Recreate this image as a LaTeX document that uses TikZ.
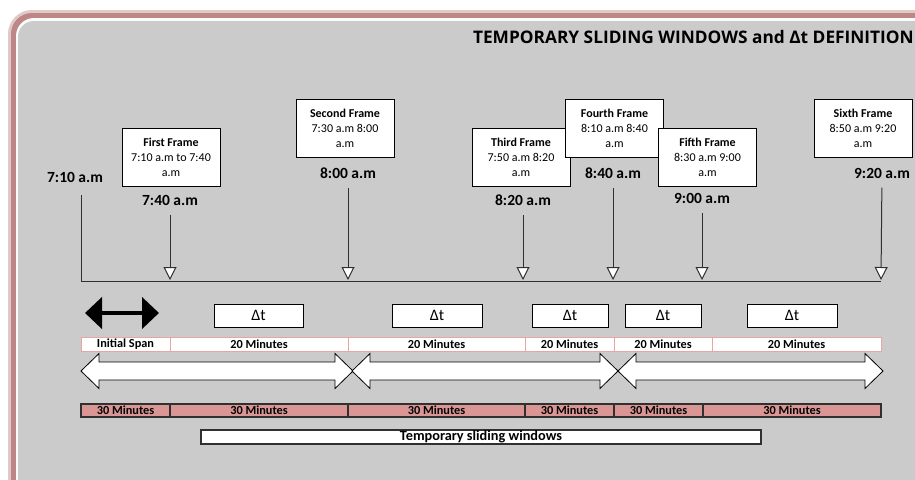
\documentclass[tikz,border=0pt]{standalone}
\usepackage{fontspec}
\setmainfont{Carlito}
\newfontfamily\titlefont{Open Sans}
\usetikzlibrary{arrows.meta, positioning}
\definecolor{panelgray}{HTML}{CBCBCB}
\definecolor{panelrim}{HTML}{BC8786}
\definecolor{spanpink}{HTML}{E6A6A5}
\definecolor{slotrose}{HTML}{D99694}
\definecolor{inkgray}{HTML}{303030}
\tikzset{
    winbox/.style = {draw, line width=1pt, fill=white, minimum width=98, minimum height=58,
        align=center, inner sep=1pt, font=\fontsize{12}{15}\selectfont},
    timelbl/.style = {inner sep=1pt, outer ysep=8.5pt, font=\bfseries\fontsize{15.5}{17}\selectfont},
    downarr/.style = {draw=inkgray, line width=1pt,
        -{Triangle[open, fill=white, length=13pt, width=13pt]}},
    dtbox/.style = {draw, line width=1pt, fill=white, minimum height=23, inner sep=0pt,
        font=\fontsize{16}{16}\selectfont},
    spanseg/.style = {draw=spanpink, line width=1pt, fill=white, minimum height=14,
        inner sep=0pt, outer sep=0pt, font=\bfseries\fontsize{12.3}{13}\selectfont},
    slotseg/.style = {draw=inkgray, line width=1.2pt, fill=slotrose, minimum height=13,
        inner sep=0pt, outer sep=0pt, font=\bfseries\fontsize{12.3}{13}\selectfont},
    pics/warrow/.style = {
        code = {%
        \draw[line width=.8pt, fill=white, line join=miter]
            (0,0) -- (18,-17.5) -- (18,-9) -- (#1-18,-9) -- (#1-18,-17.5) -- (#1,0)
            -- (#1-18,17.5) -- (#1-18,9) -- (18,9) -- (18,17.5) -- cycle;
        }
    },
}
\begin{document}
\begin{tikzpicture}[x=1pt, y=-1pt]
\useasboundingbox (0,0) rectangle (915,479);
\clip (0,0) rectangle (915,479);
\fill[white] (0,0) rectangle (915,479);
\fill[panelrim!45, rounded corners=24] (8,10) rectangle (960,520);
\fill[panelrim, rounded corners=21] (11,13) rectangle (960,520);
\fill[white!92!panelgray, rounded corners=18] (16,18) rectangle (960,520);
\fill[panelgray, rounded corners=16] (18,21) rectangle (960,520);

\node[anchor=east, inner sep=0pt, font=\titlefont\bfseries\fontsize{17.3}{18}\selectfont] (title) at (914,37)
    {TEMPORARY SLIDING WINDOWS and Δt DEFINITION};

% timeline
\coordinate (top0) at (81,195);
\coordinate (base0) at (81,281);
\coordinate (base6) at (881,281);
\draw[draw=inkgray, line width=1pt] (top0) -- (base0) -- (base6);
\node[timelbl] (l0) at (75,177) {7:10 a.m};

\coordinate (t1) at (170,280);
\coordinate (t2) at (348,280);
\coordinate (t3) at (523,280);
\coordinate (t4) at (613,280);
\coordinate (t5) at (702,280);
\coordinate (t6) at (881,280);

\node[timelbl] (l1) at (170,200) {7:40 a.m};
\node[timelbl] (l2) at (348,173) {8:00 a.m};
\node[timelbl] (l3) at (523,200) {8:20 a.m};
\node[timelbl] (l4) at (613,173) {8:40 a.m};
\node[timelbl] (l5) at (702,198) {9:00 a.m};
\node[timelbl] (l6) at (882,173) {9:20 a.m};
\draw[downarr] (l1) -- (t1);
\draw[downarr] (l2) -- (t2);
\draw[downarr] (l3) -- (t3);
\draw[downarr] (l4) -- (t4);
\draw[downarr] (l5) -- (t5);
\draw[downarr] (l6) -- (t6);

% frames
\node[winbox] (f1) at (171,157) {\textbf{First Frame}\\7:10 a.m to 7:40\\a.m};
\node[winbox] (f2) at (345,128) {\textbf{Second Frame}\\7:30 a.m 8:00\\a.m};
\node[winbox] (f3) at (521,157) {\textbf{Third Frame}\\7:50 a.m 8:20\\a.m};
\node[winbox] (f4) at (614.5,128) {\textbf{Fourth Frame}\\8:10 a.m 8:40\\a.m};
\node[winbox] (f5) at (707.5,157) {\textbf{Fifth Frame}\\8:30 a.m 9:00\\a.m};
\node[winbox] (f6) at (863,128) {\textbf{Sixth Frame}\\8:50 a.m 9:20\\a.m};

% delta t
\coordinate (span-l) at (85,313);
\coordinate (span-r) at (159,313);
\draw[line width=4.5pt, {Triangle[length=17pt, width=31pt]}-{Triangle[length=17pt, width=31pt]}]
    (span-l) -- (span-r);
\node[dtbox, minimum width=89] (d1) at (258.5,315.5) {Δt};
\node[dtbox, minimum width=90] (d2) at (437,315.5) {Δt};
\node[dtbox, minimum width=76] (d3) at (570,315.5) {Δt};
\node[dtbox, minimum width=76] (d4) at (663,315.5) {Δt};
\node[dtbox, minimum width=90] (d5) at (792,315.5) {Δt};

% spans
\node[spanseg, minimum width=89, anchor=west] (s1) at (81,344) {Initial Span};
\node[spanseg, minimum width=178, right=0pt of s1] (s2) {20 Minutes};
\node[spanseg, minimum width=177, right=0pt of s2] (s3) {20 Minutes};
\node[spanseg, minimum width=89, right=0pt of s3] (s4) {20 Minutes};
\node[spanseg, minimum width=98, right=0pt of s4] (s5) {20 Minutes};
\node[spanseg, minimum width=169, right=0pt of s5] (s6) {20 Minutes};

\pic (w1) at (81,371) {warrow=272};
\pic (w2) at (352,371) {warrow=266};
\pic (w3) at (618,371) {warrow=265};

\node[slotseg, minimum width=89, anchor=west] (m1) at (81,410.5) {30 Minutes};
\node[slotseg, minimum width=178, right=0pt of m1] (m2) {30 Minutes};
\node[slotseg, minimum width=177, right=0pt of m2] (m3) {30 Minutes};
\node[slotseg, minimum width=89, right=0pt of m3] (m4) {30 Minutes};
\node[slotseg, minimum width=89, right=0pt of m4] (m5) {30 Minutes};
\node[slotseg, minimum width=178, right=0pt of m5] (m6) {30 Minutes};

\node[draw=inkgray, line width=1.2pt, fill=white, minimum width=560, minimum height=14, inner sep=0pt,
    font=\bfseries\fontsize{14.3}{14}\selectfont] (tsw) at (481,437) {Temporary sliding windows};
\end{tikzpicture}
\end{document}
